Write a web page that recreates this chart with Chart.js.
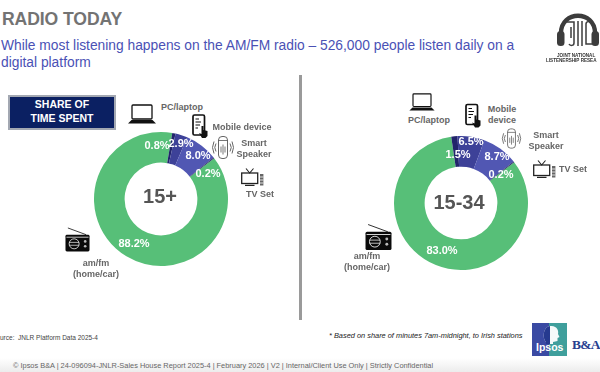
<!DOCTYPE html>
<html>
<head>
<meta charset="utf-8">
<title>Radio today</title>
<script src="https://cdn.jsdelivr.net/npm/chart.js@4"></script>
<style>
html, body { margin: 0; padding: 0; background: #fff; }
#slide { position: relative; width: 600px; height: 372px; overflow: hidden; background: #fff; font-family: "Liberation Sans", Arial, sans-serif; }
#slide > * { position: absolute; }
#footerShade { left: 0; right: 0; top: 358px; height: 14px; background: linear-gradient(#fff, #ececec); }
h1 { margin: 0; left: 2px; top: 9px; font-size: 17.6px; line-height: 20px; color: #737373; letter-spacing: -0.1px; }
#subtitle { left: 1px; top: 37px; width: 530px; font-size: 13.8px; line-height: 17px; color: #4a51b5; }
#shareBox { left: 8px; top: 95px; width: 104px; height: 30px; padding-top: 1px; border: 2px solid #a3a8b2; background: #0b2062; color: #fff; font-weight: bold; font-size: 10.5px; line-height: 13.5px; text-align: center; }
#divider { left: 299px; top: 75px; width: 3px; height: 245px; background: #9a9a9a; }
canvas { position: absolute; }
.lbl { font-weight: bold; font-size: 9px; line-height: 10.5px; color: #666; text-align: center; white-space: nowrap; transform: translateX(-50%); }
.big { font-weight: bold; font-size: 20px; line-height: 22px; color: #555; transform: translateX(-50%); }
.small { font-size: 7.4px; line-height: 10px; color: #444; white-space: nowrap; }
#note { left: 329px; top: 331px; font-style: italic; color: #222; }
#source { left: 0; top: 333px; font-size: 6.5px; }
#footer { left: 13px; top: 361px; font-size: 7.4px; color: #666; }
#jnlr1, #jnlr2 { font-weight: bold; font-size: 4.6px; line-height: 5px; color: #333; white-space: nowrap; }
#jnlr1 { left: 557px; top: 53px; }
#jnlr2 { left: 546px; top: 58px; }
#ipsosBox { left: 532px; top: 323px; width: 35px; height: 33px; background: linear-gradient(90deg, #3a4aa3 0 50%, #3f9f9c 50% 100%); }
#ipsosText { left: 536px; top: 341px; font-size: 10.5px; line-height: 12px; color: #fff; font-weight: bold; }
#ba { left: 572px; top: 337px; font-family: "Liberation Serif", serif; font-weight: bold; font-size: 13.5px; line-height: 16px; color: #27408f; letter-spacing: -0.7px; }
svg { overflow: visible; }
</style>
</head>
<body>
<div id="slide">
    <div id="footerShade"></div>
    <h1>RADIO TODAY</h1>
    <div id="subtitle">While most listening happens on the AM/FM radio – 526,000 people listen daily on a digital platform</div>
    <div id="shareBox">SHARE OF<br>TIME SPENT</div>
    <div id="divider"></div>

    <canvas id="chartAll" width="140" height="140" style="left:91px;top:129px"></canvas>
    <canvas id="chartYoung" width="140" height="140" style="left:391px;top:133px"></canvas>

    <div class="big" style="left:160px;top:185px">15+</div>
    <div class="big" style="left:459px;top:191px">15-34</div>

    <div class="lbl" style="left:182px;top:102px">PC/laptop</div>
    <div class="lbl" style="left:242px;top:122px">Mobile device</div>
    <div class="lbl" style="left:254px;top:138px">Smart<br>Speaker</div>
    <div class="lbl" style="left:260px;top:189px">TV Set</div>
    <div class="lbl" style="left:96px;top:258px">am/fm<br>(home/car)</div>

    <div class="lbl" style="left:429px;top:115px">PC/laptop</div>
    <div class="lbl" style="left:502px;top:104px">Mobile<br>device</div>
    <div class="lbl" style="left:546px;top:130px">Smart<br>Speaker</div>
    <div class="lbl" style="left:573px;top:164px">TV Set</div>
    <div class="lbl" style="left:367px;top:251px">am/fm<br>(home/car)</div>

    <svg width="0" height="0" style="left:0;top:0">
        <defs>
            <symbol id="laptop" viewBox="0 0 28 20">
                <rect x="4" y="1" width="20" height="14" rx="1" fill="none" stroke="#111" stroke-width="1.3"/>
                <path d="M3.5 16 H24.5 L28 19.4 H0 Z" fill="#111"/>
            </symbol>
            <symbol id="phone" viewBox="0 0 16 24">
                <rect x="1" y="1" width="11.5" height="20" rx="1.5" fill="#fff" stroke="#111" stroke-width="1.7"/>
                <path d="M3.5 5 H7 M3.5 8 H9 M3.5 11 H8 M3.5 14 H6" stroke="#111" stroke-width="1.1"/>
                <path d="M9.5 12 H11.5 V16 L15.5 17 V22 L13.5 24 H10 L7 19 L9.5 20 Z" fill="#111"/>
            </symbol>
            <symbol id="speaker" viewBox="0 0 22 24">
                <rect x="6.5" y="1" width="9" height="22" rx="3.5" fill="#fff" stroke="#555" stroke-width="0.9"/>
                <path d="M6.5 5 H15.5 M11 9 V19 M9 11 V17 M13 11 V17" stroke="#555" stroke-width="0.8" fill="none"/>
                <path d="M4 8 Q1.5 12 4 16 M2 6 Q-1 12 2 18 M18 8 Q20.5 12 18 16 M20 6 Q23 12 20 18" stroke="#666" stroke-width="1" fill="none"/>
            </symbol>
            <symbol id="tv" viewBox="0 0 23 18">
                <rect x="0.7" y="5" width="16" height="10.5" fill="none" stroke="#222" stroke-width="1.3"/>
                <path d="M5 0.5 L8.7 5 L12.5 0.5 M4 17.4 H13.5" stroke="#222" stroke-width="1.1" fill="none"/>
                <rect x="19" y="6" width="3.4" height="11.5" fill="#666"/>
                <path d="M19 9 H22.4 M19 12 H22.4 M19 15 H22.4" stroke="#fff" stroke-width="0.8"/>
            </symbol>
            <symbol id="radio" viewBox="0 0 26 26">
                <path d="M3 1 L22 8" stroke="#222" stroke-width="0.9"/>
                <rect x="0.5" y="8" width="25" height="17.5" rx="1.5" fill="#0a0a0a"/>
                <path d="M1.5 10.6 H24.5" stroke="#fff" stroke-width="0.8"/>
                <circle cx="9.5" cy="17.5" r="5.2" fill="none" stroke="#fff" stroke-width="0.8"/>
                <path d="M4.5 16 H14.5 M4.5 19 H14.5" stroke="#fff" stroke-width="0.7"/>
                <circle cx="21" cy="15" r="1.4" fill="#bbb"/>
                <circle cx="21" cy="20" r="1.4" fill="#bbb"/>
            </symbol>
        </defs>
    </svg>

    <svg style="left:128px;top:104px" width="28" height="20"><use href="#laptop"/></svg>
    <svg style="left:192px;top:114px" width="16" height="24"><use href="#phone"/></svg>
    <svg style="left:212px;top:135px" width="22" height="25"><use href="#speaker"/></svg>
    <svg style="left:241px;top:168px" width="23" height="18"><use href="#tv"/></svg>
    <svg style="left:65px;top:227px" width="25" height="25"><use href="#radio"/></svg>

    <svg style="left:409px;top:93px" width="26" height="18"><use href="#laptop"/></svg>
    <svg style="left:465px;top:103px" width="16" height="25"><use href="#phone"/></svg>
    <svg style="left:500px;top:128px" width="23" height="21"><use href="#speaker"/></svg>
    <svg style="left:533px;top:160px" width="23" height="18"><use href="#tv"/></svg>
    <svg style="left:365px;top:223px" width="27" height="28"><use href="#radio"/></svg>

    <svg style="left:556px;top:13px" width="50" height="38" viewBox="0 0 50 38">
        <path d="M5 26 V20 C5 -3 39 -3 39 20 V26" fill="none" stroke="#3c3c3c" stroke-width="4.4"/>
        <rect x="1" y="18" width="7.5" height="15" rx="3.5" fill="#3c3c3c"/>
        <rect x="35.5" y="18" width="7.5" height="15" rx="3.5" fill="#3c3c3c"/>
        <path d="M11 9 H18 V30 C18 33 14 33 13 31 M15 14 V25 M22 8 V33 M26 8 V33 M30 11 C30 8 34 8 36 10 M30 11 V31 H36" fill="none" stroke="#3c3c3c" stroke-width="1.5"/>
    </svg>
    <div id="jnlr1">JOINT NATIONAL</div>
    <div id="jnlr2">LISTENERSHIP RESEA</div>

    <div id="source" class="small">urce:&nbsp; JNLR Platform Data 2025-4</div>
    <div id="note" class="small">* Based on share of minutes 7am-midnight, to Irish stations</div>

    <div id="ipsosBox"></div>
    <svg style="left:532px;top:323px" width="35" height="33" viewBox="0 0 35 33">
        <path d="M14 19 C10 15 11 4 18 3 C25 2 27 8 26 11 L27.5 14 L25.5 15 V18 L21 19 V21 H14 Z" fill="#fff" opacity="0.95"/>
        <path d="M14 19 C10 15 11 4 18 3 V21 H14 Z" fill="#263a8f"/>
    </svg>
    <div id="ipsosText">Ipsos</div>
    <div id="ba">B&amp;A</div>

    <div id="footer">© Ipsos B&amp;A | 24-096094-JNLR-Sales House Report 2025-4 | February 2026 | V2 | Internal/Client Use Only | Strictly Confidential</div>
</div>

<script>
const categories = ['am/fm (home/car)', 'PC/laptop', 'Mobile device', 'Smart Speaker', 'TV Set'];
const valuesAll = [88.2, 0.8, 2.9, 8.0, 0.2];
const valuesYoung = [83.0, 1.5, 6.5, 8.7, 0.2];
const sliceColours = ['#57bf78', '#22256b', '#3d4198', '#5157b3', '#20235f'];

// label offsets from the ring centre, the labels sit by hand in the original
const offsetsAll = [[-27, 45], [-4, -53], [20, -55], [37, -43], [47, -25]];
const offsetsYoung = [[-19, 48], [-3, -48], [10, -61], [36, -46], [40, -28]];

const valueLabels = {
    id: 'valueLabels',
    afterDraw(chart, args, opts) {
        let ctx = chart.ctx;
        let arc = chart.getDatasetMeta(0).data[0];
        ctx.save();
        ctx.font = 'bold 11px "Liberation Sans", Arial, sans-serif';
        ctx.fillStyle = '#fff';
        ctx.textAlign = 'center';
        ctx.textBaseline = 'middle';
        chart.data.datasets[0].data.forEach((value, index) => {
            let offset = opts.offsets[index];
            ctx.fillText(value.toFixed(1) + '%', arc.x + offset[0], arc.y + offset[1]);
        });
        ctx.restore();
    }
};

function drawRing(canvasId, values, offsets) {
    return new Chart(document.getElementById(canvasId), {
        type: 'doughnut',
        data: {
            labels: categories,
            datasets: [{
                data: values,
                backgroundColor: sliceColours,
                borderWidth: 0
            }]
        },
        options: {
            responsive: false,
            animation: false,
            rotation: 52.5,
            radius: 67,
            cutout: 38,
            plugins: {
                legend: { display: false },
                tooltip: { enabled: false },
                valueLabels: { offsets: offsets }
            }
        },
        plugins: [valueLabels]
    });
}

drawRing('chartAll', valuesAll, offsetsAll);
drawRing('chartYoung', valuesYoung, offsetsYoung);
</script>
</body>
</html>
